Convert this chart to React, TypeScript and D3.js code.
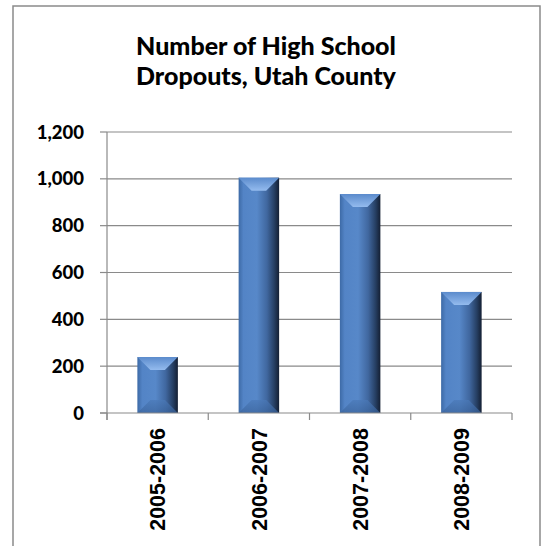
import React from "react";
import * as d3 from "d3";

const categories = ["2005-2006", "2006-2007", "2007-2008", "2008-2009"];
const dropouts = [239, 1005, 935, 517];
const yTicks = [0, 200, 400, 600, 800, 1000, 1200];
const titleLines = ["Number of High School", "Dropouts, Utah County"];

const W = 541;
const H = 546;
const plot = { left: 107, right: 512, top: 132, bottom: 413 };

export default function App() {
  const x = d3
    .scaleBand<string>()
    .domain(categories)
    .range([plot.left, plot.right])
    .paddingInner(0.6)
    .paddingOuter(0.3);
  const y = d3.scaleLinear().domain([0, 1200]).range([plot.bottom, plot.top]);
  const fmt = d3.format(",");
  const boundaries = d3.range(categories.length + 1).map((i) => plot.left + i * ((plot.right - plot.left) / categories.length));
  const grey = "#8a8a8a";
  const calibri = "Lato, 'Open Sans', sans-serif";

  return (
    <svg
      width={W}
      height={H}
      style={{ position: "absolute", left: 0, top: 0, background: "#fff" }}
    >
      <defs>
        <linearGradient id="barBody" x1="0" x2="1" y1="0" y2="0">
          <stop offset="0" stopColor="#3d6aa6" />
          <stop offset="0.12" stopColor="#5384c6" />
          <stop offset="0.45" stopColor="#5788c9" />
          <stop offset="0.7" stopColor="#40679f" />
          <stop offset="0.88" stopColor="#263f63" />
          <stop offset="1" stopColor="#141f33" />
        </linearGradient>
        <linearGradient id="barTop" x1="0" x2="0" y1="0" y2="1">
          <stop offset="0" stopColor="#5b8bcc" />
          <stop offset="1" stopColor="#94bbee" />
        </linearGradient>
        <linearGradient id="barBottom" x1="0" x2="0" y1="0" y2="1">
          <stop offset="0" stopColor="#4a79b8" />
          <stop offset="1" stopColor="#3a639b" />
        </linearGradient>
      </defs>

      <rect x={13} y={6} width={527} height={560} fill="#fff" stroke={grey} strokeWidth={1.5} />

      {titleLines.map((t, i) => (
        <text
          key={t}
          x={266}
          y={55 + i * 30}
          textAnchor="middle"
          fontFamily={calibri}
          fontWeight={900}
          fontSize={25}
          fill="#000"
        >
          {t}
        </text>
      ))}

      {yTicks.map((t) => (
        <g key={t}>
          {t > 0 && (
            <line x1={plot.left} x2={plot.right} y1={y(t)} y2={y(t)} stroke={grey} strokeWidth={1.2} />
          )}
          <line x1={plot.left - 7} x2={plot.left} y1={y(t)} y2={y(t)} stroke={grey} strokeWidth={1.2} />
          <text
            x={84}
            y={y(t)}
            dy="0.36em"
            textAnchor="end"
            fontFamily={calibri}
            fontWeight={900}
            fontSize={18.5}
            fill="#000"
          >
            {fmt(t)}
          </text>
        </g>
      ))}

      {categories.map((c, i) => {
        const v = dropouts[i];
        const x0 = x(c)!;
        const bw = x.bandwidth();
        const x1 = x0 + bw;
        const y0 = y(v);
        const y1 = y(0);
        const bev = Math.min(13, (y1 - y0) / 2);
        const bevX = 13;
        return (
          <g key={c}>
            <rect x={x0} y={y0} width={bw} height={y1 - y0} fill="url(#barBody)" />
            <polygon
              points={`${x0},${y0} ${x1},${y0} ${x1 - bevX},${y0 + bev} ${x0 + bevX},${y0 + bev}`}
              fill="url(#barTop)"
            />
            <polygon
              points={`${x0},${y1} ${x1},${y1} ${x1 - bevX},${y1 - bev} ${x0 + bevX},${y1 - bev}`}
              fill="url(#barBottom)"
              opacity={0.7}
            />
          </g>
        );
      })}

      <line x1={plot.left} x2={plot.left} y1={plot.top} y2={plot.bottom + 7} stroke={grey} strokeWidth={1.2} />
      <line x1={plot.left - 7} x2={plot.right} y1={plot.bottom} y2={plot.bottom} stroke={grey} strokeWidth={1.2} />
      {boundaries.map((b, i) => (
        <line key={i} x1={b} x2={b} y1={plot.bottom} y2={plot.bottom + 7} stroke={grey} strokeWidth={1.2} />
      ))}

      {categories.map((c) => {
        const cx = x(c)! + x.bandwidth() / 2;
        return (
          <text
            key={c}
            transform={`translate(${cx},${428}) rotate(-90)`}
            dy="0.36em"
            textAnchor="end"
            fontFamily="'Liberation Sans', Arial, sans-serif"
            fontWeight="bold"
            fontSize={21.5}
            fill="#000"
          >
            {c}
          </text>
        );
      })}
    </svg>
  );
}
